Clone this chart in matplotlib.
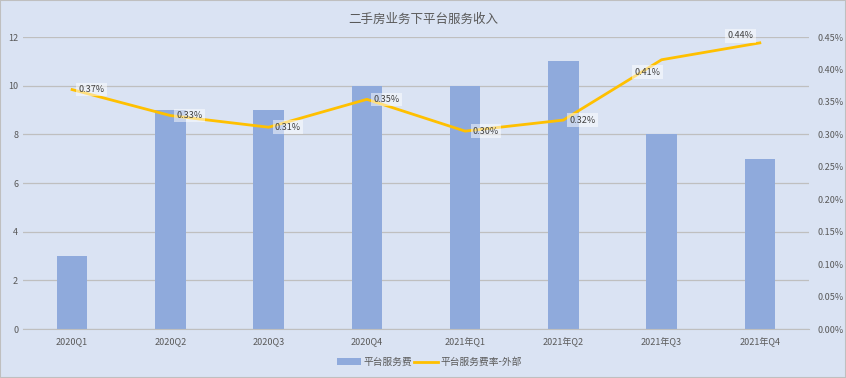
import matplotlib
matplotlib.use("Agg")
import matplotlib.pyplot as plt
from matplotlib.ticker import FuncFormatter, MultipleLocator

plt.rcParams['font.family'] = ['Noto Sans CJK SC', 'DejaVu Sans']

categories = ['2020Q1', '2020Q2', '2020Q3', '2020Q4', '2021年Q1', '2021年Q2', '2021年Q3', '2021年Q4']
fees = [3, 9, 9, 10, 10, 11, 8, 7]
rates = [0.37, 0.33, 0.31, 0.35, 0.30, 0.32, 0.41, 0.44]
rate_pos = [0.369, 0.329, 0.311, 0.354, 0.305, 0.322, 0.415, 0.441]
label_offsets = [(14, 0), (14, 0), (14, 0), (14, 0), (15, 0), (14, 0), (-10, -9), (-14, 5)]

bg = '#dae3f3'
fig = plt.figure(figsize=(8.46, 3.78), dpi=100, facecolor=bg)
ax = fig.add_axes([0.0272, 0.1296, 0.929, 0.7724])
ax.set_facecolor(bg)
x = list(range(len(categories)))
ax.bar(x, fees, width=0.31, color='#8faadc', zorder=2, label='平台服务费')
ax.set_ylim(0, 12)
ax.set_xlim(-0.5, len(categories) - 0.5)
ax.yaxis.set_major_locator(MultipleLocator(2))
ax.grid(axis='y', color='#bfbfbf', linewidth=0.9, zorder=0)
ax.set_xticks(x)
ax.set_xticklabels(categories)
ax.tick_params(axis='both', length=0, labelsize=6.5, colors='#595959')
ax.tick_params(axis='x', pad=6)
for s in ax.spines.values():
    s.set_visible(False)
ax.spines['bottom'].set_visible(True)
ax.spines['bottom'].set_color('#bfbfbf')

ax2 = ax.twinx()
ax2.set_ylim(0, 0.45)
ax2.yaxis.set_major_locator(MultipleLocator(0.05))
ax2.yaxis.set_major_formatter(FuncFormatter(lambda v, p: f'{v:.2f}%'))
ax2.tick_params(axis='y', length=0, labelsize=6.5, colors='#595959', pad=6)
for s in ax2.spines.values():
    s.set_visible(False)
ax2.plot(x, rate_pos, color='#ffc000', linewidth=2, zorder=3, label='平台服务费率-外部')
for xi, yi, r, off in zip(x, rate_pos, rates, label_offsets):
    ax2.annotate(f'{r:.2f}%', (xi, yi), xytext=off, textcoords='offset points',
                 ha='center', va='center', fontsize=6.5, color='#404040',
                 bbox=dict(boxstyle='square,pad=0.25', fc='white', alpha=0.5, ec='none'), zorder=4)

fig.suptitle('二手房业务下平台服务收入', y=0.965, fontsize=9, color='#595959')
h1, l1 = ax.get_legend_handles_labels()
h2, l2 = ax2.get_legend_handles_labels()
fig.legend(h1 + h2, l1 + l2, loc='center', bbox_to_anchor=(0.508, 0.042), ncol=2, frameon=False,
           fontsize=7, labelcolor='#595959', handlelength=2.4, columnspacing=0.2, handletextpad=0.3)
fig.patches.append(plt.Rectangle((0, 0), 1, 1, transform=fig.transFigure, fill=False,
                                 ec='#bfbfbf', lw=1.5))
fig.savefig('out.png', dpi=100, facecolor=bg)
